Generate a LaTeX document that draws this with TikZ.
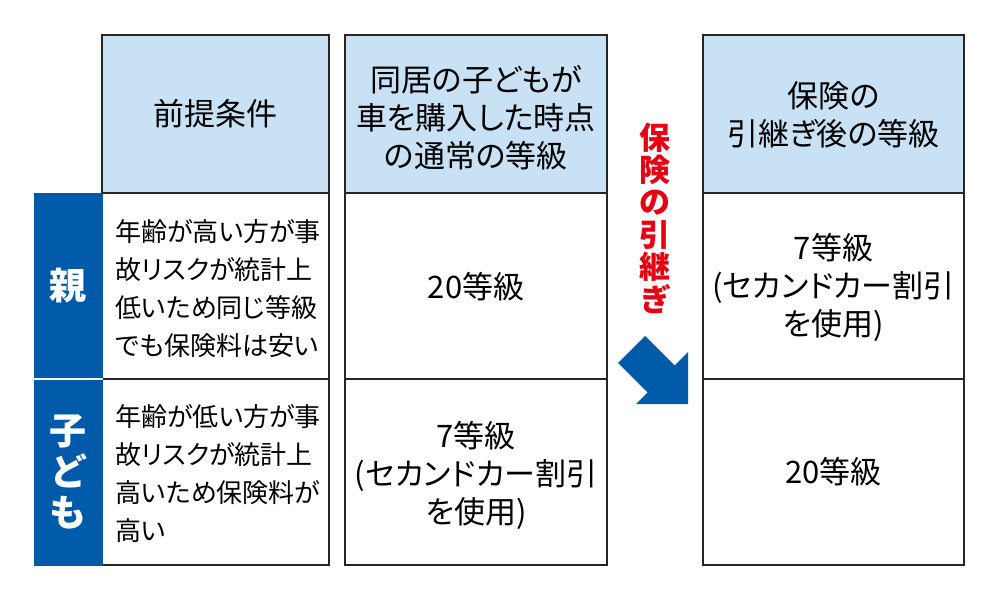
\documentclass[tikz,border=0pt]{standalone}
\usepackage{fontspec}
\setmainfont{Noto Sans CJK JP}[RawFeature=+palt]
\usepackage{xcolor}
\definecolor{hdrblue}{RGB}{200,225,245}
\definecolor{labelblue}{RGB}{0,90,170}
\definecolor{alertred}{RGB}{230,0,18}

\begin{document}
\begin{tikzpicture}[x=0.5pt,y=-0.5pt,every node/.style={inner sep=0pt},
	frame/.style={draw=black!85, line width=1pt},
	hdr/.style={align=center, font=\fontsize{15.5}{19}\selectfont},
	body/.style={align=left, anchor=west, font=\fontsize{13}{19}\selectfont},
	grade/.style={align=center, font=\fontsize{15.5}{19}\selectfont},
	side/.style={align=center, text=white, font=\bfseries\fontsize{18.5}{20.5}\selectfont}]

	\useasboundingbox (0,0) rectangle (1000,600);

	% header cells
	\filldraw[fill=hdrblue, frame] (102,35) rectangle (329,193);
	\filldraw[fill=hdrblue, frame] (345,35) rectangle (607,193);
	\filldraw[fill=hdrblue, frame] (703,35) rectangle (964,193);

	% body cells
	\draw[frame] (102,193) rectangle (329,565);
	\draw[frame] (345,193) rectangle (607,565);
	\draw[frame] (703,193) rectangle (964,565);
	\draw[frame] (102,379) -- (329,379);
	\draw[frame] (345,379) -- (607,379);
	\draw[frame] (703,379) -- (964,379);

	% row labels
	\fill[labelblue] (34,193) rectangle (102.5,565.5);
	\draw[white, line width=0.75pt] (34,379) -- (102.5,379);

	% arrow
	\fill[labelblue] (618,363) -- (645,336) -- (674.5,365.5) -- (688,352) -- (688,404)
		-- (636,404) -- (647.5,392.5) -- cycle;

	% Headers
	\node[hdr] (premise) at (215.5,114) {前提条件};
	\node[hdr] (before) at (476,118) {同居の子どもが\\車を購入した時点\\の通常の等級};
	\node[hdr] (after) at (833.5,115) {保険の\\引継ぎ後の等級};

	% Labels
	\node[side] (parent) at (68,286) {親};
	\node[side] (child) at (68,472) {子\\ど\\も};
	\node[align=center, text=alertred, font=\bfseries\fontsize{15.5}{16.2}\selectfont] (carry) at (655,218) {保\\険\\の\\引\\継\\ぎ};

	% Conditions
	\node[body] (parentnote) at (115,289) {年齢が高い方が事\\故リスクが統計上\\低いため同じ等級\\でも保険料は安い};
	\node[body] (childnote) at (115,474) {年齢が低い方が事\\故リスクが統計上\\高いため保険料が\\高い};

	% Grades
	\node[grade] (parentbefore) at (476,287) {20等級};
	\node[grade] (childbefore) at (476,475) {7等級\\(セカンドカー割引\\を使用)};
	\node[grade] (parentafter) at (833.5,287) {7等級\\(セカンドカー割引\\を使用)};
	\node[grade] (childafter) at (833.5,472) {20等級};

\end{tikzpicture}
\end{document}
